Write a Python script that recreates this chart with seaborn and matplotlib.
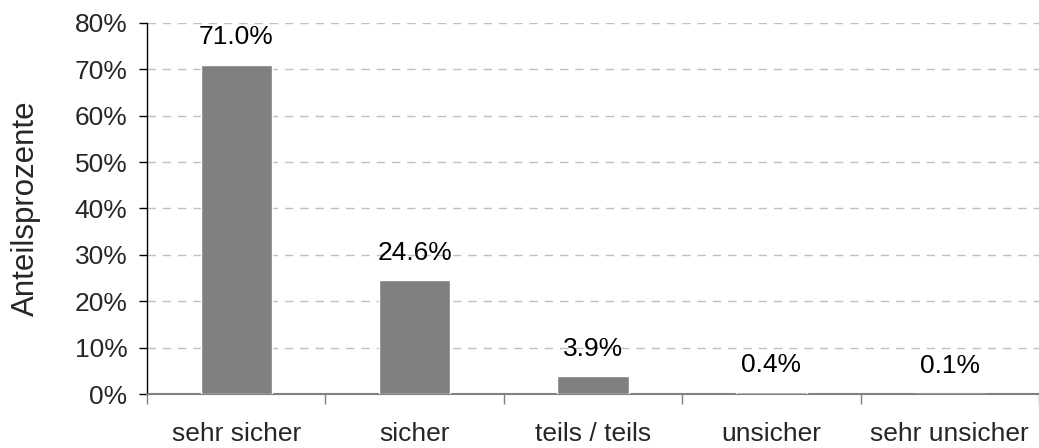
import matplotlib
matplotlib.use('Agg')
import matplotlib.pyplot as plt
import seaborn as sns
from matplotlib.ticker import FixedLocator, PercentFormatter

categories = ['sehr sicher', 'sicher', 'teils / teils', 'unsicher', 'sehr unsicher']
shares = [71.0, 24.6, 3.9, 0.4, 0.1]
y_ticks = [0, 10, 20, 30, 40, 50, 60, 70, 80]

sns.set_style('white')
plt.rcParams['font.family'] = ['Liberation Sans', 'DejaVu Sans']

fig = plt.figure(figsize=(10.39, 4.48), dpi=100)
ax = fig.add_axes([147 / 1039, 54 / 448, 1 - 147 / 1039, 371 / 448])

sns.barplot(x=categories, y=shares, color='#808080', width=0.4,
            saturation=1, ax=ax, zorder=3)

for i, v in enumerate(shares):
    ax.annotate(f'{v:.1f}%', (i, v), xytext=(0, 11), textcoords='offset points',
                ha='center', va='bottom', fontsize=19, color='black')

ax.set_xlim(-0.5, len(categories) - 0.5)
ax.set_ylim(0, 80)
ax.set_yticks(y_ticks)
ax.yaxis.set_major_formatter(PercentFormatter(decimals=0))
ax.tick_params(axis='y', labelsize=19, length=6, width=1, pad=8,
               direction='out', left=True, color='black')
ax.xaxis.set_minor_locator(FixedLocator([i - 0.5 for i in range(len(categories) + 1)]))
ax.tick_params(axis='x', which='major', length=0, pad=20, labelsize=19)
ax.tick_params(axis='x', which='minor', length=7, width=1, color='#808080',
               direction='out', bottom=True)

for y in y_ticks[1:]:
    ax.axhline(y, color='#c0c0c0', linestyle=(0, (6, 5)), linewidth=1, zorder=1)

ax.set_xlabel('')
ax.set_ylabel('Anteilsprozente', fontsize=22.5, labelpad=24)

sns.despine(ax=ax, top=True, right=True)
ax.spines['left'].set_color('black')
ax.spines['left'].set_linewidth(1)
ax.spines['bottom'].set_color('#808080')
ax.spines['bottom'].set_linewidth(1.5)

fig.savefig('out.png', dpi=100)
